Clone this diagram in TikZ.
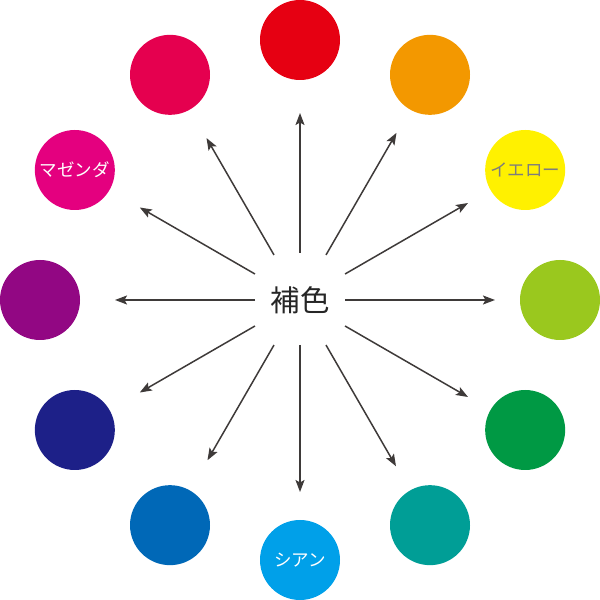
\documentclass[tikz,border=0pt]{standalone}
\usepackage{fontspec}
\newfontfamily\jp{Noto Sans CJK JP}
\usetikzlibrary{arrows.meta,calc}
\definecolor{cRed}{HTML}{E60012}
\definecolor{cOrange}{HTML}{F39800}
\definecolor{cYellow}{HTML}{FFF100}
\definecolor{cYG}{HTML}{9AC81E}
\definecolor{cGreen}{HTML}{009944}
\definecolor{cTeal}{HTML}{009E96}
\definecolor{cCyan}{HTML}{00A0E9}
\definecolor{cBlue}{HTML}{0068B7}
\definecolor{cNavy}{HTML}{1D2088}
\definecolor{cPurple}{HTML}{920783}
\definecolor{cMagenta}{HTML}{E4007F}
\definecolor{cCrimson}{HTML}{E5004F}
\definecolor{lineCol}{HTML}{3E3A39}
\definecolor{grayText}{HTML}{7D7D7D}
\tikzset{
  colordot/.style={circle, minimum size=80pt, inner sep=0pt},
  dotlabel/.style={font=\jp\fontsize{17.5}{17.5}\selectfont, text=white},
  arr/.style={draw=lineCol, line width=1.5pt, -{Stealth[length=12pt,width=9pt,inset=2.5pt]}},
}
\begin{document}
\begin{tikzpicture}[x=1pt,y=1pt]
\useasboundingbox (0,0) rectangle (600,600);
\node[font=\jp\fontsize{29.5}{29.5}\selectfont, text=black!85] (c) at (300,300) {補色};
\foreach \ang/\col/\nm in {90/cRed/n1, 60/cOrange/n2, 30/cYellow/n3, 0/cYG/n4, -30/cGreen/n5, -60/cTeal/n6, -90/cCyan/n7, -120/cBlue/n8, -150/cNavy/n9, 180/cPurple/n10, 150/cMagenta/n11, 120/cCrimson/n12}{
  \node[colordot, fill=\col] (\nm) at ($(300,300)+(\ang:260)$) {};
}
\node[dotlabel, text=grayText] (l3) at (n3) {イエロー};
\node[dotlabel] (l11) at (n11) {マゼンダ};
\node[dotlabel] (l7) at (n7) {シアン};
\foreach \ang/\sr/\er/\i in {90/47/187/1, 60/52/193/2, 30/52/194/3, 0/45/195/4, -30/52/194/5, -60/52/192/6, -90/45/192/7, -120/52/185/8, -150/52/185/9, 180/45/185/10, 150/52/185/11, 120/52/187/12}{
  \coordinate (s\i) at ($(c.center)+(\ang:\sr)$);
  \coordinate (e\i) at ($(c.center)+(\ang:\er)$);
  \draw[arr] (s\i) -- (e\i);
}
\end{tikzpicture}
\end{document}
